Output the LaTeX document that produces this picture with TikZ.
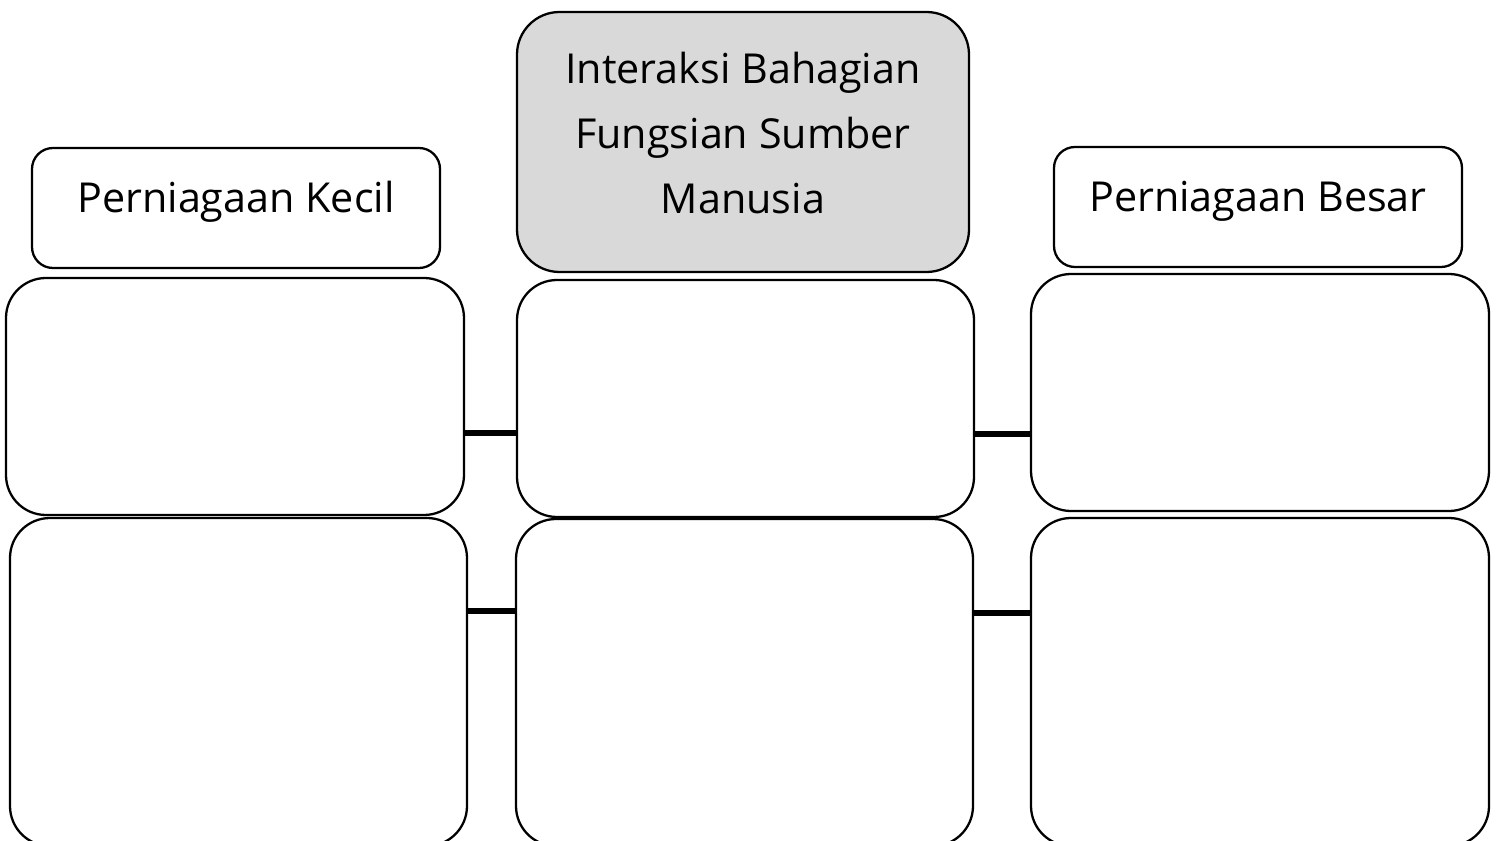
\documentclass[tikz,border=0pt]{standalone}
\usepackage{fontspec}
\setmainfont{Open Sans}
\begin{document}
\begin{tikzpicture}[x=0.02cm,y=-0.02cm,
  box/.style={draw=black,line width=1.3pt,rounded corners=0.8cm,fill=white,inner sep=0pt},
  hbox/.style={draw=black,line width=1.3pt,rounded corners=0.42cm,fill=white,inner sep=0pt},
  cbox/.style={draw=black,line width=1.3pt,rounded corners=0.85cm,fill=gray!30,inner sep=0pt},
  conn/.style={draw=black,line width=3.2pt},
  lbl/.style={font=\fontsize{23.5pt}{37pt}\selectfont,align=center,inner sep=0pt}]
\clip (0,0) rectangle (1501,841);
\fill[white] (0,0) rectangle (1501,841);
% header boxes
\node[hbox,minimum width=408*0.02cm,minimum height=120*0.02cm] (hk) at (236,208) {};
\node[cbox,minimum width=452*0.02cm,minimum height=260*0.02cm] (hc) at (743,142) {};
\node[hbox,minimum width=408*0.02cm,minimum height=120*0.02cm] (hb) at (1258,207) {};
\node[lbl] (tk) at (236,202) {Perniagaan Kecil};
\node[lbl] (tc) at (743,133) {Interaksi Bahagian\\Fungsian Sumber\\Manusia};
\node[lbl] (tb) at (1258,201) {Perniagaan Besar};
% row 1
\node[box,minimum width=458*0.02cm,minimum height=237*0.02cm] (l1) at (235,396.5) {};
\node[box,minimum width=457*0.02cm,minimum height=237*0.02cm] (m1) at (745.5,398.5) {};
\node[box,minimum width=458*0.02cm,minimum height=237*0.02cm] (r1) at (1260,392.5) {};
% row 2
\node[box,minimum width=457*0.02cm,minimum height=328*0.02cm] (l2) at (238.5,682) {};
\node[box,minimum width=457*0.02cm,minimum height=327*0.02cm] (m2) at (744.5,682.5) {};
\node[box,minimum width=458*0.02cm,minimum height=328*0.02cm] (r2) at (1260,682) {};
% connectors
\coordinate (y1a) at (0,433);
\coordinate (y1b) at (0,434);
\coordinate (y2a) at (0,611);
\coordinate (y2b) at (0,613);
\draw[conn] (l1.east |- y1a) -- (m1.west |- y1a);
\draw[conn] (m1.east |- y1b) -- (r1.west |- y1b);
\draw[conn] (l2.east |- y2a) -- (m2.west |- y2a);
\draw[conn] (m2.east |- y2b) -- (r2.west |- y2b);
\end{tikzpicture}
\end{document}
